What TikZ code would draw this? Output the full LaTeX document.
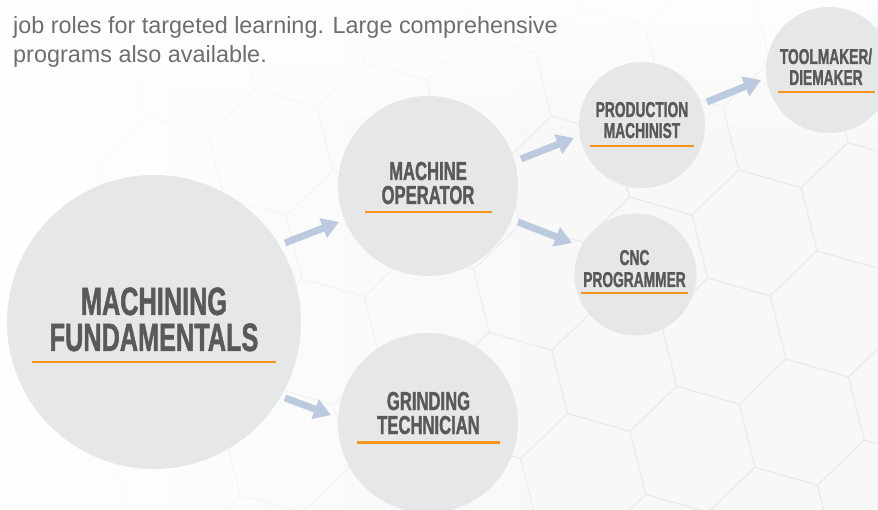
\documentclass[tikz,border=0pt]{standalone}
\usepackage{fontspec}
\setmainfont{Liberation Sans}
\newfontfamily\condfont[FakeStretch=0.64,FakeBold=1.2]{Liberation Sans}
\usetikzlibrary{arrows.meta,calc,fadings}
\definecolor{circfill}{HTML}{E6E7E8}
\definecolor{textgrey}{HTML}{58595B}
\definecolor{paragrey}{HTML}{6D6E71}
\definecolor{uorange}{HTML}{F7941D}
\definecolor{arrowblue}{HTML}{BCCADF}
\definecolor{bgcol}{HTML}{F8F8F8}
\definecolor{hexcol}{HTML}{ECECEC}
\tikzset{
  bub/.style={circle, fill=circfill, draw=none, inner sep=0pt, outer sep=0pt},
  lblbig/.style={text=textgrey, inner sep=0pt, anchor=base, font=\condfont\bfseries\fontsize{39.5}{39.5}\selectfont},
  lblmid/.style={text=textgrey, inner sep=0pt, anchor=base, font=\condfont\bfseries\fontsize{26}{26}\selectfont},
  lblsmall/.style={text=textgrey, inner sep=0pt, anchor=base, font=\condfont\bfseries\fontsize{21.5}{21.5}\selectfont},
  para/.style={text=paragrey, inner sep=0pt, anchor=base west, font=\fontsize{23.4}{28}\selectfont},
  uline/.style={draw=uorange, line width=2.5pt},
  arr/.style={draw=arrowblue, line width=7pt, -{Triangle[length=17pt,width=20pt]}},
  hexline/.style={draw=hexcol, line width=1.1pt, line join=round}
}
\begin{document}
\begin{tikzpicture}[x=1pt,y=-1pt]
\useasboundingbox (0,0) rectangle (878,510);
% background
\fill[bgcol] (0,0) rectangle (878,510);
\begin{scope}
\clip (0,0) rectangle (878,510);
\foreach \i in {-10,...,6}{
  \foreach \j in {-6,...,6}{
    \pgfmathsetmacro\cx{723.5+78.2*\i-31.0*\j}
    \pgfmathsetmacro\cy{341.1+81.0*\i+108.2*\j}
    \draw[hexline, shift={(\cx,\cy)}] (16:65) -- (76:65) -- (136:65) -- (196:65) -- (256:65) -- (316:65) -- cycle;
  }
}
\fill[white, path fading=east] (0,0) rectangle (600,510);
\fill[white, path fading=south, opacity=0.85] (0,0) rectangle (878,150);
\end{scope}

% paragraph
\node[para] (parA) at (13,34) {job roles for targeted learning. Large comprehensive};
\node[para] (parB) at (13,63) {programs also available.};

% circles
\node[bub, minimum size=294pt] (fund) at (154,322) {};
\node[bub, minimum size=180pt] (op) at (428,186) {};
\node[bub, minimum size=180pt] (grind) at (428,423) {};
\node[bub, minimum size=126pt] (prod) at (642,125) {};
\node[bub, minimum size=126pt] (tool) at (829,70) {};
\node[bub, minimum size=122pt] (cnc) at (635.5,274.5) {};

% labels
\node[lblbig] (fundA) at (154,315) {MACHINING};
\node[lblbig] (fundB) at (154,351) {FUNDAMENTALS};
\draw[uline] (32,362) -- (276,362);

\node[lblmid] (opA) at (428,180) {MACHINE};
\node[lblmid] (opB) at (428,204) {OPERATOR};
\draw[uline] (365,212) -- (492,212);

\node[lblmid] (grindA) at (428.5,410) {GRINDING};
\node[lblmid] (grindB) at (428.5,434) {TECHNICIAN};
\draw[uline] (357,442.5) -- (500,442.5);

\node[lblsmall] (prodA) at (642,117) {PRODUCTION};
\node[lblsmall] (prodB) at (642,138) {MACHINIST};
\draw[uline] (590,146) -- (694,146);

\node[lblsmall] (toolA) at (826,64) {TOOLMAKER/};
\node[lblsmall] (toolB) at (826,85) {DIEMAKER};
\draw[uline] (778,92) -- (875,92);

\node[lblsmall] (cncA) at (634.5,265) {CNC};
\node[lblsmall] (cncB) at (634.5,287) {PROGRAMMER};
\draw[uline] (581,293) -- (688,293);

% arrows
\draw[arr] ($(fund.center)+(-31.1:153)$) -- ($(op.center)+(158:96)$);
\draw[arr] ($(fund.center)+(30.1:151.5)$) -- ($(grind.center)+(184.7:97.3)$);
\draw[arr] ($(op.center)+(-16.2:96.8)$) -- ($(prod.center)+(169.2:69.2)$);
\draw[arr] ($(op.center)+(21.8:96.9)$) -- ($(cnc.center)+(206.4:70.9)$);
\draw[arr] ($(prod.center)+(-19.5:69)$) -- ($(tool.center)+(171.6:68.7)$);
\end{tikzpicture}
\end{document}
